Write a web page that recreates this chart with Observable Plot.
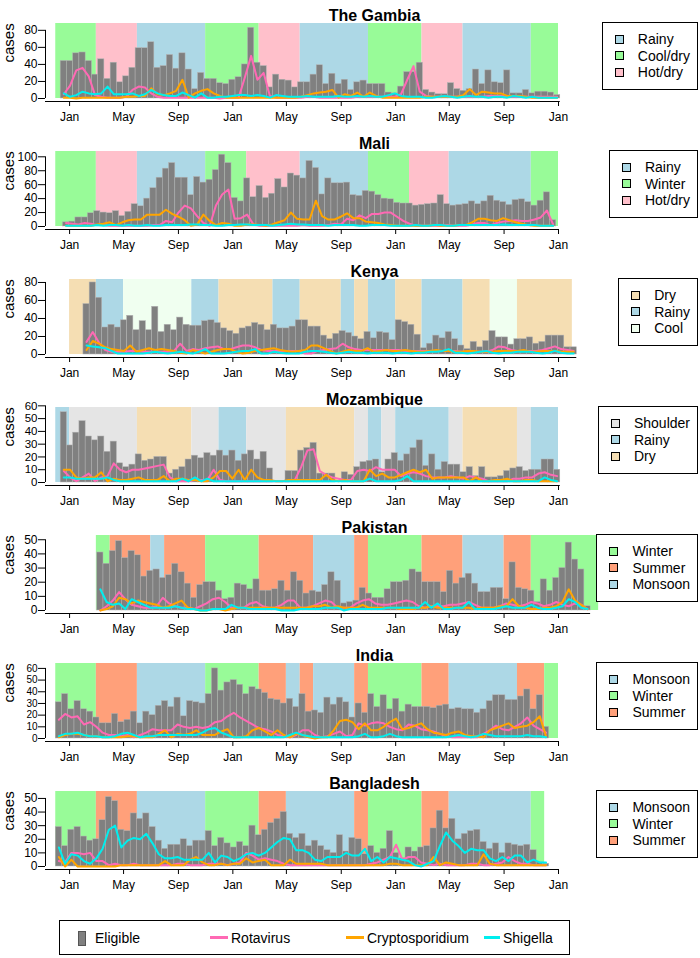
<!DOCTYPE html>
<html><head><meta charset="utf-8">
<script src="https://cdn.jsdelivr.net/npm/d3@7"></script>
<script src="https://cdn.jsdelivr.net/npm/@observablehq/plot@0.6"></script>
<style>
body{margin:0;background:#fff;font-family:"Liberation Sans",Arial,sans-serif;}
#root{position:relative;width:700px;height:958px;overflow:hidden;}
.panel{position:relative;width:700px;height:128px;}
.panel svg{display:block;}
.leg{position:absolute;right:2px;top:22px;background:#fff;border:1px solid #000;padding:8px 7px 8px 12px;font-size:14px;line-height:16.5px;white-space:nowrap;z-index:2;}
.leg .row{display:flex;align-items:center;height:16.5px;}
.sw{display:inline-block;width:7px;height:7px;border:1px solid #000;margin-right:14px;}
#bottom{position:absolute;left:59px;top:920px;width:509px;height:33px;border:1px solid #000;font-size:14px;}
#bottom .it{position:absolute;}
#bottom .tx{position:absolute;top:9px;line-height:16px;}
</style></head>
<body><div id="root"><div id="panels"></div>
<div id="bottom">
  <div class="it" style="left:18px;top:10px;width:6px;height:13px;background:#808080;border:1px solid #555;"></div>
  <div class="tx" style="left:35px;">Eligible</div>
  <div class="it" style="left:150px;top:15px;width:18px;height:3px;background:#FF69B4;"></div>
  <div class="tx" style="left:171px;">Rotavirus</div>
  <div class="it" style="left:286px;top:15px;width:18px;height:3px;background:#FFA500;"></div>
  <div class="tx" style="left:307px;">Cryptosporidium</div>
  <div class="it" style="left:424px;top:15px;width:16px;height:3px;background:#00EEEE;"></div>
  <div class="tx" style="left:443px;">Shigella</div>
</div>
</div>
<script>
// ---------- data ----------
const xTickDates = ["2008-01-01","2008-05-01","2008-09-01","2009-01-01","2009-05-01","2009-09-01","2010-01-01","2010-05-01","2010-09-01","2011-01-01"];
const seasonColors = {"Rainy":"#ADD8E6","Monsoon":"#ADD8E6","Cool/dry":"#98FB98","Winter":"#98FB98","Hot/dry":"#FFC0CB","Dry":"#F5DEB3","Cool":"#F0FFF0","Shoulder":"#E5E5E5","Summer":"#FFA07A"};

// The Gambia
const gambiaStart = "2007-12-12";
const gambiaEligible = [44,44,53,54,44,28,46,23,42,19,26,36,59,59,66,36,38,51,35,53,34,11,30,23,23,18,17,22,25,40,83,42,38,13,28,22,21,13,19,19,28,39,17,29,17,22,10,19,21,17,17,17,7,6,14,31,31,42,10,7,5,5,18,11,9,11,34,17,33,19,18,33,6,6,10,6,8,8,7,4];
const gambiaRota = [5,15,33,36,26,4,2,1,1,1,2,10,14,13,6,2,1,1,1,1,1,1,1,1,1,0,1,1,1,25,50,22,30,3,1,1,1,1,1,2,2,1,1,1,1,1,1,2,2,2,2,2,2,2,5,22,38,8,3,2,2,2,2,2,2,2,2,2,3,3,3,2,2,2,2,2,2,2,2,2];
const gambiaCrypto = [1,1,0,1,1,1,1,1,1,1,2,2,3,3,12,5,4,6,9,22,1,6,9,11,6,3,1,1,1,1,1,1,1,1,1,1,1,1,2,4,6,7,8,10,1,5,3,7,2,7,3,1,1,1,1,1,1,1,2,2,2,2,2,2,4,11,4,8,7,6,6,3,3,3,2,1,1,1,1,1];
const gambiaShig = [6,2,4,8,6,5,6,14,5,5,5,6,3,5,10,6,4,3,3,7,4,1,6,1,1,2,2,3,4,4,3,4,3,1,4,3,2,2,2,3,2,2,2,2,3,2,2,3,2,3,2,2,4,6,3,2,2,2,1,1,2,3,2,1,2,3,2,2,1,2,2,1,3,2,1,2,1,1,1,1];
const gambiaBounds = ["2007-12-01","2008-03-01","2008-06-01","2008-11-01","2009-03-01","2009-06-01","2009-11-01","2010-03-01","2010-06-01","2010-11-01","2011-01-01"];
const gambiaSeasons = ["Cool/dry","Hot/dry","Rainy","Cool/dry","Hot/dry","Rainy","Cool/dry","Hot/dry","Rainy","Cool/dry"];
const gambiaLegend = ["Rainy","Cool/dry","Hot/dry"];

// Mali
const maliStart = "2007-12-17";
const maliEligible = [6,7,13,13,19,22,20,19,22,15,21,32,29,40,55,70,83,91,70,70,45,71,63,67,81,103,91,41,36,69,42,58,41,47,68,56,76,73,69,94,84,46,69,62,62,63,45,44,51,50,45,40,39,34,33,33,30,31,32,33,45,32,30,31,32,36,32,36,44,37,35,31,38,39,35,30,37,49,9];
const maliRota = [5,4,3,5,4,2,2,1,1,1,1,1,1,1,2,2,8,6,20,30,26,15,5,1,30,46,53,11,12,17,3,1,1,1,1,1,1,1,2,1,1,1,2,4,3,11,9,16,12,18,18,20,20,14,8,4,1,1,1,1,1,2,1,1,1,3,5,5,2,5,7,8,9,8,8,10,13,23,3];
const maliCrypto = [1,1,1,1,1,3,4,6,2,6,9,10,10,17,17,17,24,18,14,9,1,3,17,8,2,5,4,1,1,3,3,2,1,3,6,9,20,11,10,10,37,15,10,10,14,19,12,12,7,6,5,3,2,1,1,1,1,1,1,2,1,1,1,2,2,6,11,11,9,8,12,9,6,4,2,1,1,1,1];
const maliShig = [1,1,1,1,1,2,1,2,2,1,2,1,1,2,1,1,2,2,2,2,3,3,2,2,1,1,2,2,3,3,2,2,2,1,2,3,4,3,3,2,2,2,1,2,2,2,2,1,1,2,2,2,1,1,1,1,2,1,1,2,2,1,1,2,2,2,2,2,2,2,3,2,2,2,2,2,1,1,1];
const maliBounds = ["2007-12-01","2008-03-01","2008-06-01","2008-11-01","2009-02-01","2009-06-01","2009-11-01","2010-02-01","2010-05-01","2010-11-01","2011-01-01"];
const maliSeasons = ["Winter","Hot/dry","Rainy","Winter","Hot/dry","Rainy","Winter","Hot/dry","Rainy","Winter"];
const maliLegend = ["Rainy","Winter","Hot/dry"];

// Kenya
const kenyaStart = "2008-02-01";
const kenyaEligible = [56,80,63,30,33,30,38,43,27,37,27,53,25,33,27,41,33,32,32,37,38,35,29,26,23,29,31,35,33,27,33,29,29,31,38,38,31,31,21,17,23,26,24,20,17,25,18,25,24,16,38,36,33,22,7,12,21,18,25,17,10,6,14,8,15,26,19,19,11,17,17,19,12,14,21,21,21,8,8];
const kenyaRota = [14,25,13,5,3,3,3,4,4,3,3,3,3,3,4,12,4,6,5,7,8,9,6,6,8,10,10,8,5,4,4,4,4,4,4,1,1,4,5,6,7,12,8,6,5,5,5,5,5,5,5,4,4,4,4,4,4,4,4,4,3,3,3,3,3,5,9,8,5,4,4,4,4,5,7,9,6,5,4];
const kenyaCrypto = [5,15,12,8,6,5,4,10,3,5,7,5,6,5,4,2,1,5,3,1,3,5,6,6,3,1,2,4,5,6,7,5,4,3,4,5,10,10,7,4,1,3,5,4,4,7,3,4,5,4,4,5,4,3,3,4,5,4,4,3,3,4,4,3,3,3,4,4,4,4,5,3,3,4,4,4,3,3,3];
const kenyaShig = [10,9,8,7,4,1,1,1,1,1,2,3,2,1,2,3,2,1,3,6,1,1,1,2,3,4,4,6,1,1,3,2,1,1,1,3,4,4,3,2,1,2,3,2,2,1,2,2,2,1,2,2,1,2,2,3,3,4,6,2,2,1,2,3,4,2,1,2,2,3,3,3,2,1,2,4,2,1,1];
const kenyaBounds = ["2008-01-01","2008-03-01","2008-05-01","2008-10-01","2008-12-01","2009-04-01","2009-06-01","2009-09-01","2009-10-01","2009-11-01","2010-01-01","2010-03-01","2010-06-01","2010-08-01","2010-10-01","2011-02-01"];
const kenyaSeasons = ["Dry","Rainy","Cool","Rainy","Dry","Rainy","Dry","Rainy","Dry","Rainy","Dry","Rainy","Dry","Cool","Dry"];
const kenyaLegend = ["Dry","Rainy","Cool"];

// Mozambique
const mozStart = "2007-12-12";
const mozEligible = [55,29,39,48,36,33,36,24,32,15,12,14,22,17,18,20,20,7,10,12,18,21,19,23,21,25,21,25,17,22,25,18,24,11,0,0,9,9,25,27,31,7,7,7,0,8,6,12,16,17,18,8,18,23,17,22,27,33,13,22,10,16,14,14,8,12,5,12,4,4,5,9,11,12,9,10,10,18,18,10];
const mozRota = [9,4,1,4,7,1,4,5,15,10,8,10,10,11,12,13,14,4,1,1,1,2,2,2,10,2,1,1,1,1,1,1,1,1,1,1,1,2,12,25,26,9,6,4,3,2,2,9,10,9,12,10,10,10,5,7,8,7,5,4,4,4,5,4,3,5,4,3,1,1,1,1,3,3,4,4,7,8,6,5];
const mozCrypto = [10,10,4,3,4,4,8,1,3,2,2,3,4,2,2,2,5,1,3,3,2,2,1,1,4,9,9,3,10,2,10,4,2,2,1,1,2,2,2,2,2,2,6,2,1,2,1,1,1,10,5,7,4,4,6,8,10,8,10,3,4,4,4,4,4,1,4,1,1,2,2,3,1,1,2,2,1,1,1,1];
const mozShig = [4,4,3,3,3,3,3,4,2,1,1,1,1,1,1,1,1,1,1,3,1,4,1,3,1,1,1,1,1,1,1,1,1,1,1,1,1,1,1,1,1,1,1,1,1,1,1,1,1,3,1,1,1,1,2,5,1,1,1,1,1,1,1,1,1,1,1,1,1,1,1,1,1,1,1,1,1,4,2,1];
const mozBounds = ["2007-12-01","2008-01-01","2008-06-01","2008-10-01","2008-12-01","2009-02-01","2009-05-01","2009-10-01","2009-11-01","2009-12-01","2010-01-01","2010-05-01","2010-06-01","2010-10-01","2010-11-01","2011-01-01"];
const mozSeasons = ["Rainy","Shoulder","Dry","Shoulder","Rainy","Shoulder","Dry","Shoulder","Rainy","Shoulder","Rainy","Shoulder","Dry","Shoulder","Rainy"];
const mozLegend = ["Shoulder","Rainy","Dry"];

// Pakistan
const pakStart = "2008-03-03";
const pakEligible = [41,33,42,49,37,42,39,24,28,29,23,25,33,27,19,9,18,20,20,14,8,9,19,18,15,22,14,14,15,21,14,27,21,12,14,13,18,27,21,5,6,7,16,12,9,9,15,20,20,21,29,27,20,20,20,13,28,19,23,26,19,13,13,16,16,8,34,16,15,14,6,22,14,23,30,48,36,29,3];
const pakRota = [0,3,7,13,8,4,3,2,2,3,9,5,3,2,2,1,3,5,8,9,6,2,2,2,5,6,3,2,2,4,7,7,2,2,3,5,7,6,2,2,2,5,7,8,5,4,4,5,6,7,6,3,2,3,3,3,4,4,5,6,4,2,2,2,3,5,4,3,4,6,5,3,4,6,4,3,5,4,1];
const pakCrypto = [0,1,3,9,8,5,7,6,5,4,2,3,5,7,2,1,0,0,1,1,0,1,2,2,2,2,2,2,2,2,2,2,2,2,3,3,4,2,3,2,2,2,4,2,2,2,2,2,1,1,1,2,2,3,2,2,2,2,2,2,1,2,2,2,3,3,8,3,2,1,1,2,2,3,6,15,7,4,1];
const pakShig = [15,6,4,5,1,8,6,4,2,2,2,2,3,2,1,1,0,0,1,1,1,4,2,2,1,1,1,1,1,0,0,0,1,1,1,1,2,2,2,0,1,1,1,1,1,1,2,2,2,2,2,2,6,2,5,1,1,2,2,6,1,1,1,1,2,3,2,2,2,4,2,1,1,2,3,8,6,2,1];
const pakBounds = ["2008-03-01","2008-04-01","2008-07-01","2008-08-01","2008-11-01","2009-03-01","2009-07-01","2009-10-01","2009-11-01","2010-03-01","2010-06-01","2010-09-01","2010-11-01","2011-04-01"];
const pakSeasons = ["Winter","Summer","Monsoon","Summer","Winter","Summer","Monsoon","Summer","Winter","Summer","Monsoon","Summer","Winter"];
const pakLegend = ["Winter","Summer","Monsoon"];

// India
const indiaStart = "2007-12-01";
const indiaEligible = [31,38,25,32,25,23,18,13,13,21,14,16,23,13,23,20,28,32,27,35,19,32,31,30,38,60,41,48,50,46,38,44,42,39,34,33,30,34,27,38,23,24,22,35,29,35,31,18,30,22,38,27,37,25,34,23,29,27,27,27,26,28,29,25,26,25,25,22,25,32,37,37,33,33,36,42,25,37,10];
const indiaRota = [16,21,18,19,12,14,10,5,3,3,2,3,1,3,5,8,7,7,7,12,10,9,10,9,10,14,15,19,22,18,15,12,9,8,6,3,2,1,3,7,7,3,1,2,4,6,2,3,13,11,13,14,13,10,8,7,12,11,8,7,6,4,2,1,1,1,1,1,4,7,11,8,7,10,13,18,11,8,5];
const indiaCrypto = [1,3,4,4,3,2,2,1,1,1,1,2,2,1,1,1,4,7,1,4,3,4,7,3,3,3,6,8,1,1,2,7,9,6,3,7,3,1,4,3,1,0,1,1,7,15,16,14,8,13,7,7,10,14,17,8,9,11,13,8,5,4,3,5,6,3,2,2,1,7,9,11,13,9,10,11,14,19,2];
const indiaShig = [2,4,4,5,3,2,2,1,1,2,4,5,3,1,2,2,3,3,3,3,3,3,3,5,8,9,5,3,1,1,1,1,1,1,1,1,1,3,5,3,2,1,1,1,1,1,1,1,2,4,1,1,2,4,2,1,1,1,1,1,1,1,1,2,3,2,1,2,4,3,2,2,2,2,2,3,2,2,1];
const indiaBounds = ["2007-12-01","2008-03-01","2008-06-01","2008-11-01","2009-03-01","2009-05-01","2009-06-01","2009-07-01","2009-10-01","2009-11-01","2010-03-01","2010-05-01","2010-10-01","2010-12-01","2011-01-01"];
const indiaSeasons = ["Winter","Summer","Monsoon","Winter","Summer","Monsoon","Summer","Monsoon","Summer","Winter","Summer","Monsoon","Summer","Winter"];
const indiaLegend = ["Monsoon","Winter","Summer"];

// Bangladesh
const bangStart = "2007-12-01";
const bangEligible = [29,15,27,29,22,19,20,34,51,48,27,26,39,35,39,29,19,13,16,16,20,15,19,19,26,15,21,17,14,18,15,30,23,27,32,35,40,24,21,24,15,19,15,12,10,23,11,21,20,9,15,10,13,26,10,6,14,11,14,15,28,41,28,35,20,24,26,27,18,13,17,10,17,16,15,16,12,3,2];
const bangRota = [4,3,10,10,9,10,4,4,1,2,1,1,2,1,1,1,1,1,1,2,2,1,1,1,2,2,2,1,2,3,10,8,5,6,5,4,2,1,1,1,1,1,1,1,1,1,1,1,1,1,2,3,5,7,16,5,7,7,3,2,1,2,1,1,1,1,2,2,1,1,2,3,7,4,2,2,1,1,1];
const bangCrypto = [7,0,5,0,0,0,0,0,0,0,1,1,1,1,1,1,1,4,1,1,1,5,7,3,1,1,2,1,2,2,6,3,4,5,1,1,1,5,2,2,2,2,2,1,1,1,1,1,1,1,1,1,1,2,2,1,1,1,1,1,7,1,3,2,1,1,1,1,9,2,1,1,1,1,1,1,1,1,1];
const bangShig = [14,2,9,8,4,2,6,13,27,30,14,19,21,20,24,17,9,6,6,7,5,5,5,5,10,3,8,7,4,6,9,10,8,10,14,18,21,20,12,12,10,5,4,7,7,7,10,8,8,13,4,7,3,7,6,5,4,1,0,2,4,15,25,19,15,10,13,12,12,6,4,7,4,8,8,3,5,3,3];
const bangBounds = ["2007-12-01","2008-03-01","2008-06-01","2008-11-01","2009-03-01","2009-05-01","2009-10-01","2009-11-01","2010-03-01","2010-05-01","2010-11-01","2010-12-01"];
const bangSeasons = ["Winter","Summer","Monsoon","Winter","Summer","Monsoon","Summer","Winter","Summer","Monsoon","Winter"];
const bangLegend = ["Monsoon","Winter","Summer"];

// ---------- panels ----------
const panels = [
  {title:"The Gambia", start:gambiaStart, elig:gambiaEligible, rota:gambiaRota, crypto:gambiaCrypto, shig:gambiaShig, bounds:gambiaBounds, seasons:gambiaSeasons, legend:gambiaLegend, top:88, yticks:[0,20,40,60,80], yfont:12},
  {title:"Mali", start:maliStart, elig:maliEligible, rota:maliRota, crypto:maliCrypto, shig:maliShig, bounds:maliBounds, seasons:maliSeasons, legend:maliLegend, top:107.6, yticks:[0,20,40,60,80,100], yfont:12},
  {title:"Kenya", start:kenyaStart, elig:kenyaEligible, rota:kenyaRota, crypto:kenyaCrypto, shig:kenyaShig, bounds:kenyaBounds, seasons:kenyaSeasons, legend:kenyaLegend, top:83.3, yticks:[0,20,40,60,80], yfont:12},
  {title:"Mozambique", start:mozStart, elig:mozEligible, rota:mozRota, crypto:mozCrypto, shig:mozShig, bounds:mozBounds, seasons:mozSeasons, legend:mozLegend, top:58.7, yticks:[0,10,20,30,40,50,60], yfont:11.5},
  {title:"Pakistan", start:pakStart, elig:pakEligible, rota:pakRota, crypto:pakCrypto, shig:pakShig, bounds:pakBounds, seasons:pakSeasons, legend:pakLegend, top:53, yticks:[0,10,20,30,40,50], yfont:12},
  {title:"India", start:indiaStart, elig:indiaEligible, rota:indiaRota, crypto:indiaCrypto, shig:indiaShig, bounds:indiaBounds, seasons:indiaSeasons, legend:indiaLegend, top:64.2, yticks:[0,10,20,30,40,50,60], yfont:10},
  {title:"Bangladesh", start:bangStart, elig:bangEligible, rota:bangRota, crypto:bangCrypto, shig:bangShig, bounds:bangBounds, seasons:bangSeasons, legend:bangLegend, top:55.1, yticks:[0,10,20,30,40,50], yfont:12}
];

const x0 = new Date("2007-11-08"), xEnd = new Date("2011-01-01");
const xTicks = xTickDates.map(d => new Date(d));
const holder = document.getElementById("panels");

for (const p of panels) {
  const start = new Date(p.start);
  const top = p.top, yLow = -3 * top / 75;
  const bars = p.elig.map((v, i) => ({a: d3.utcDay.offset(start, 14 * i), b: d3.utcDay.offset(start, 14 * i + 14), v}));
  const pts = arr => arr.map((v, i) => ({x: d3.utcDay.offset(start, 14 * i + 7), v}));
  const seas = p.seasons.map((n, i) => ({a: new Date(p.bounds[i]), b: new Date(p.bounds[i + 1]), c: seasonColors[n]}));
  const lastBar = bars[bars.length - 1].b;
  const axisEnd = lastBar > xEnd ? lastBar : xEnd;
  const maxTick = p.yticks[p.yticks.length - 1];

  const svg = Plot.plot({
    width: 700, height: 128,
    marginTop: 23, marginBottom: 27, marginLeft: 45, marginRight: 142,
    x: {type: "utc", domain: [x0, xEnd]},
    y: {domain: [yLow, top]},
    color: {type: "identity"},
    style: {fontFamily: "'Liberation Sans', Arial, sans-serif", fontSize: "12px", background: "transparent", overflow: "visible"},
    marks: [
      Plot.rect(seas, {x1: "a", x2: "b", y1: 0, y2: top, fill: "c"}),
      Plot.rect(bars, {x1: "a", x2: "b", y1: 0, y2: "v", fill: "#808080", stroke: "#b4b4b4", strokeWidth: 0.5}),
      Plot.line(pts(p.rota), {x: "x", y: "v", stroke: "#FF69B4", strokeWidth: 2}),
      Plot.line(pts(p.crypto), {x: "x", y: "v", stroke: "#FFA500", strokeWidth: 2}),
      Plot.line(pts(p.shig), {x: "x", y: "v", stroke: "#00EEEE", strokeWidth: 2}),
      Plot.ruleY([yLow], {x1: x0, x2: axisEnd, stroke: "#000"}),
      Plot.ruleX([x0], {y1: 0, y2: maxTick, stroke: "#000"}),
      Plot.axisX({ticks: xTicks, tickFormat: d3.utcFormat("%b"), tickSize: 5, tickPadding: 6, label: null}),
      Plot.axisY({ticks: p.yticks, tickSize: 7, tickPadding: 1, label: null, fontSize: p.yfont}),
      Plot.text([p.title], {frameAnchor: "top", dx: 72.5, dy: -14, fontWeight: "bold", fontSize: 16, fill: "#000"}),
      Plot.text(["cases"], {frameAnchor: "left", dx: -36, rotate: -90, fontSize: 15, fill: "#000"})
    ]
  });

  const div = document.createElement("div");
  div.className = "panel";
  div.appendChild(svg);
  const leg = document.createElement("div");
  leg.className = "leg";
  for (const n of p.legend) {
    const row = document.createElement("div");
    row.className = "row";
    const sw = document.createElement("span");
    sw.className = "sw";
    sw.style.background = seasonColors[n];
    row.appendChild(sw);
    row.appendChild(document.createTextNode(n));
    leg.appendChild(row);
  }
  div.appendChild(leg);
  holder.appendChild(div);
}
</script>
</body></html>
